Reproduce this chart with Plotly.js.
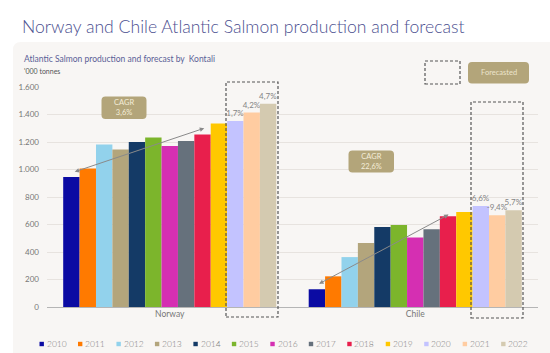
<!DOCTYPE html>
<html>
<head>
<meta charset="utf-8">
<script src="https://cdn.plot.ly/plotly-3.0.1.min.js"></script>
<style>html,body{margin:0;padding:0;background:#fff;}#chart{width:550px;height:353px;}</style>
</head>
<body>
<div id="chart"></div>
<script>
// ---- data ----
const regions = ["Norway", "Chile"];
const years = ["2010","2011","2012","2013","2014","2015","2016","2017","2018","2019","2020","2021","2022"];
const norway = [945, 1007, 1181, 1145, 1200, 1232, 1171, 1207, 1254, 1334, 1353, 1414, 1479];
const chile  = [129, 223, 363, 465, 582, 596, 505, 565, 660, 691, 735, 667, 703];
const norwayGrowth = {"2020": "1,7%", "2021": "4,2%", "2022": "4,7%"};
const chileGrowth  = {"2020": "6,6%", "2021": "-9,4%", "2022": "5,7%"};
const cagrNorway = "3,6%";
const cagrChile = "22,6%";
const yTicks = [0, 200, 400, 600, 800, 1000, 1200, 1400, 1600];
const colors = ["#0b0ba3","#ff7a00","#92d2ec","#b3a57c","#143a66","#7cb52c","#d52fb2","#66717c","#e81f4c","#ffc800","#c3c3ff","#ffcca1","#d4cab0"];

// ---- geometry helpers (pixel -> paper) ----
const W = 550, H = 353, ML = 47, MR = 12, MT = 87, MB = 46;
const PW = W - ML - MR, PH = H - MT - MB;
const X = px => (px - ML) / PW;
const Y = py => (H - MB - py) / PH;
function rr(x0, y0, x1, y1, r) {
  return `M ${X(x0+r)},${Y(y0)} L ${X(x1-r)},${Y(y0)} Q ${X(x1)},${Y(y0)} ${X(x1)},${Y(y0+r)} ` +
         `L ${X(x1)},${Y(y1-r)} Q ${X(x1)},${Y(y1)} ${X(x1-r)},${Y(y1)} L ${X(x0+r)},${Y(y1)} ` +
         `Q ${X(x0)},${Y(y1)} ${X(x0)},${Y(y1-r)} L ${X(x0)},${Y(y0+r)} Q ${X(x0)},${Y(y0)} ${X(x0+r)},${Y(y0)} Z`;
}

const FONT = "Lato, Open Sans, sans-serif";
const traces = years.map((yr, i) => ({
  type: "bar",
  name: yr,
  x: regions,
  y: [norway[i], chile[i]],
  marker: {color: colors[i]},
  text: [norwayGrowth[yr] || "", chileGrowth[yr] || ""],
  textposition: "outside",
  constraintext: "none",
  cliponaxis: false,
  textfont: {size: 8, color: "#858585", family: FONT},
  showlegend: false,
  hoverinfo: "x+y+name"
}));

const shapes = [
  // card background
  {type: "path", xref: "paper", yref: "paper", layer: "below", path: rr(13, 42, 560, 365, 8),
   fillcolor: "#f8f6f4", line: {width: 0}},
  // forecast dashed boxes
  {type: "rect", xref: "paper", yref: "paper", x0: X(226), x1: X(278), y0: Y(317), y1: Y(82),
   line: {color: "#555", width: 1.2, dash: "3px,2px"}, fillcolor: "rgba(0,0,0,0)"},
  {type: "rect", xref: "paper", yref: "paper", x0: X(471), x1: X(523), y0: Y(318), y1: Y(102),
   line: {color: "#555", width: 1.2, dash: "3px,2px"}, fillcolor: "rgba(0,0,0,0)"},
  // key dashed box
  {type: "rect", xref: "paper", yref: "paper", x0: X(425), x1: X(460), y0: Y(84), y1: Y(61),
   line: {color: "#555", width: 1.2, dash: "3px,2px"}, fillcolor: "rgba(0,0,0,0)"},
  // tan boxes
  {type: "path", xref: "paper", yref: "paper", path: rr(468, 62, 529, 83.5, 4), fillcolor: "#b3a57a", line: {width: 0}},
  {type: "path", xref: "paper", yref: "paper", path: rr(101.5, 96.5, 146.5, 119, 4), fillcolor: "#b3a57a", line: {width: 0}},
  {type: "path", xref: "paper", yref: "paper", path: rr(348.5, 150.5, 394, 172.5, 4), fillcolor: "#b3a57a", line: {width: 0}}
];

const annotations = [
  {xref: "paper", yref: "paper", x: X(22), y: Y(59), xanchor: "left", yanchor: "middle", showarrow: false,
   text: "Atlantic Salmon production and forecast by  Kontali", font: {family: FONT, size: 8.5, color: "#5b5f97"}},
  {xref: "paper", yref: "paper", x: X(22), y: Y(71), xanchor: "left", yanchor: "middle", showarrow: false,
   text: "'000 tonnes", font: {family: FONT, size: 7, color: "#555"}},
  {xref: "paper", yref: "paper", x: X(498.5), y: Y(72.7), xanchor: "center", yanchor: "middle", showarrow: false,
   text: "Forecasted", font: {family: FONT, size: 7.5, color: "#ece4cc"}},
  {xref: "paper", yref: "paper", x: X(124), y: Y(107.7), xanchor: "center", yanchor: "middle", showarrow: false,
   text: "CAGR<br>" + cagrNorway, font: {family: FONT, size: 7.5, color: "#f3edd9"}},
  {xref: "paper", yref: "paper", x: X(371.2), y: Y(161.5), xanchor: "center", yanchor: "middle", showarrow: false,
   text: "CAGR<br>" + cagrChile, font: {family: FONT, size: 7.5, color: "#f3edd9"}},
  // CAGR arrows (double headed)
  {xref: "x", yref: "y", axref: "x", ayref: "y", x: 0.1405, y: 1300, ax: -0.393, ay: 980, text: "",
   showarrow: true, arrowhead: 2, startarrowhead: 2, arrowside: "end+start", arrowsize: 0.9, startarrowsize: 0.9,
   arrowwidth: 1, arrowcolor: "#8a8a8a", standoff: 0, startstandoff: 0},
  {xref: "x", yref: "y", axref: "x", ayref: "y", x: 1.1357, y: 672, ax: 0.602, ay: 163, text: "",
   showarrow: true, arrowhead: 2, startarrowhead: 2, arrowside: "end+start", arrowsize: 0.9, startarrowsize: 0.9,
   arrowwidth: 1, arrowcolor: "#8a8a8a", standoff: 0, startstandoff: 0}
];

// custom legend built from years & colors
years.forEach((yr, i) => {
  const cx = 41.7 + i * 38.47, cy = 344;
  shapes.push({type: "rect", xref: "paper", yref: "paper", x0: X(cx - 2.2), x1: X(cx + 2.2), y0: Y(cy + 2.2), y1: Y(cy - 2.2),
               fillcolor: colors[i], line: {width: 0}});
  annotations.push({xref: "paper", yref: "paper", x: X(cx + 3), y: Y(cy), xanchor: "left", yanchor: "middle",
                    showarrow: false, text: yr, font: {family: FONT, size: 8.5, color: "#808080", weight: 300}});
});

const layout = {
  width: W, height: H,
  margin: {l: ML, r: MR, t: MT, b: MB, pad: 0},
  paper_bgcolor: "#ffffff",
  plot_bgcolor: "rgba(0,0,0,0)",
  separators: ",.",
  title: {text: "Norway and Chile Atlantic Salmon production and forecast", xref: "container", yref: "container",
          x: 22 / W, xanchor: "left", y: 1 - 27 / H, yanchor: "middle",
          font: {family: FONT, size: 17.6, color: "#4c5090", weight: 300}},
  barmode: "group", bargap: 0.132, bargroupgap: 0,
  showlegend: false,
  xaxis: {type: "category", showgrid: false, showline: false, ticks: "",
          tickfont: {family: FONT, size: 8.5, color: "#777"}, range: [-0.5, 1.5]},
  yaxis: {range: [0, 1600], tickvals: yTicks, tickformat: ",d", showgrid: true, gridcolor: "#e7e3df", gridwidth: 1,
          zeroline: true, zerolinecolor: "#b5b5b5", zerolinewidth: 1, showline: false, ticks: "",
          ticklabelstandoff: 7, tickfont: {family: FONT, size: 8, color: "#777"}},
  font: {family: FONT},
  shapes: shapes,
  annotations: annotations
};

Plotly.newPlot("chart", traces, layout, {displayModeBar: false, staticPlot: true});
</script>
</body>
</html>
